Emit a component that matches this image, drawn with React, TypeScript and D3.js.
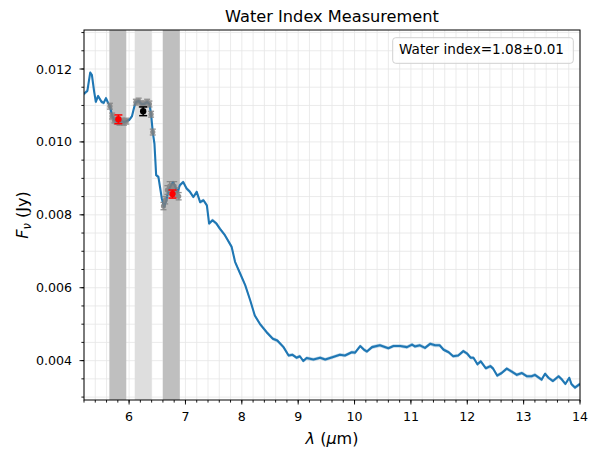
import * as d3 from 'd3'

// spectrum
const wavelength = [
  5.2, 5.22, 5.26, 5.31, 5.34, 5.38, 5.41, 5.45, 5.51, 5.55, 5.59, 5.63, 5.66, 5.7, 5.74, 5.78, 5.83, 5.87,
  5.91, 5.95, 6.0, 6.05, 6.09, 6.12, 6.17, 6.22, 6.27, 6.32, 6.36, 6.39, 6.42, 6.45, 6.48, 6.52, 6.55, 6.58,
  6.62, 6.66, 6.7, 6.74, 6.78, 6.82, 6.86, 6.9, 6.96, 7.02, 7.08, 7.14, 7.2, 7.26, 7.32, 7.38, 7.42, 7.48,
  7.55, 7.61, 7.7, 7.82, 7.88, 7.97, 8.06, 8.15, 8.23, 8.32, 8.44, 8.55, 8.63, 8.74, 8.83, 8.9, 8.97, 9.03,
  9.09, 9.15, 9.27, 9.39, 9.48, 9.62, 9.74, 9.83, 9.95, 10.01, 10.1, 10.16, 10.22, 10.31, 10.45, 10.6, 10.69,
  10.81, 10.93, 11.02, 11.07, 11.16, 11.25, 11.34, 11.43, 11.51, 11.58, 11.67, 11.75, 11.84, 11.93, 12.0,
  12.06, 12.11, 12.18, 12.24, 12.33, 12.41, 12.46, 12.53, 12.61, 12.7, 12.79, 12.88, 12.97, 13.06, 13.14,
  13.2, 13.32, 13.38, 13.44, 13.52, 13.62, 13.68, 13.74, 13.81, 13.85, 13.91, 14.0,
]
const flux = [
  0.01131, 0.01135, 0.0114, 0.0119, 0.01184, 0.01138, 0.0111, 0.01126, 0.0111, 0.01107, 0.0112, 0.01106,
  0.01098, 0.01071, 0.0106, 0.01057, 0.01054, 0.01057, 0.01054, 0.01057, 0.0106, 0.0107, 0.01095, 0.01109,
  0.01112, 0.01104, 0.01104, 0.01109, 0.01104, 0.01076, 0.01027, 0.00995, 0.00909, 0.00904, 0.00875, 0.00845,
  0.00822, 0.0084, 0.00868, 0.00879, 0.0089, 0.00876, 0.00862, 0.00881, 0.0089, 0.00872, 0.00863, 0.00849,
  0.00863, 0.00835, 0.0084, 0.00826, 0.00776, 0.00785, 0.00776, 0.00762, 0.00744, 0.00712, 0.00671, 0.00639,
  0.00607, 0.00565, 0.00524, 0.00501, 0.00478, 0.0046, 0.00455, 0.00437, 0.00414, 0.00416, 0.00408, 0.00412,
  0.00399, 0.00407, 0.00403, 0.00408, 0.00403, 0.0041, 0.00416, 0.00414, 0.00423, 0.00422, 0.0044, 0.00431,
  0.00425, 0.00437, 0.00442, 0.00434, 0.0044, 0.0044, 0.00437, 0.00444, 0.00439, 0.00442, 0.00435, 0.00446,
  0.00442, 0.00442, 0.0043, 0.00423, 0.00412, 0.00414, 0.00426, 0.00419, 0.00408, 0.00408, 0.0039, 0.00398,
  0.00379, 0.00385, 0.00378, 0.00359, 0.00366, 0.00378, 0.0037, 0.00361, 0.00366, 0.00357, 0.00357, 0.00361,
  0.00348, 0.00364, 0.00353, 0.00344, 0.00357, 0.00348, 0.00336, 0.00353, 0.00335, 0.00326, 0.00336,
]
const fluxErr = 0.00005

// integration windows: [start, end] in micron
const continuumBands = [
  [5.65, 5.95],
  [6.6, 6.9],
]
const waterBand = [6.1, 6.4]

// spectral points inside the windows
const windowLam = [
  5.66, 5.7, 5.74, 5.78, 5.83, 5.87, 5.91, 5.95, 6.12, 6.17, 6.22, 6.27, 6.32, 6.36, 6.39, 6.42, 6.61, 6.64,
  6.68, 6.72, 6.76, 6.8, 6.84, 6.88,
]
const windowFlux = [
  0.01098, 0.01071, 0.0106, 0.01057, 0.01054, 0.01057, 0.01054, 0.01057, 0.01109, 0.01112, 0.01104, 0.01104,
  0.01109, 0.01104, 0.01076, 0.01027, 0.00824, 0.0084, 0.00868, 0.00879, 0.00873, 0.00879, 0.00862, 0.00851,
]
const windowErr = [
  0.00008, 0.00008, 0.00008, 0.00008, 0.00008, 0.00008, 0.00008, 0.00008, 0.00008, 0.00008, 0.00008, 0.00008,
  0.00008, 0.00008, 0.00008, 0.00008, 0.0001, 0.0001, 0.00012, 0.00012, 0.00012, 0.00012, 0.00012, 0.0001,
]

// window means: continuum (red), water (black)
const meanLam = [5.81, 6.25, 6.77]
const meanFlux = [0.01062, 0.01084, 0.00857]
const meanErr = [0.00012, 0.00012, 0.00011]
const meanKind = ['continuum', 'water', 'continuum']

const waterIndex = '1.08±0.01'

const xMajor = [6, 7, 8, 9, 10, 11, 12, 13, 14]
const yMajor = [0.004, 0.006, 0.008, 0.01, 0.012]

const W = 599
const H = 458
const font = 'DejaVu Sans, sans-serif'

export default function App() {
  const x = d3.scaleLinear().domain([5.2, 14]).range([84, 580])
  const y = d3.scaleLinear().domain([0.00292, 0.01307]).range([400, 30])
  const [x0, x1] = x.range()
  const [y0, y1] = y.range()

  const xMinor = d3.range(5.2, 14.0001, 0.2)
  const yMinor = d3.range(0.003, 0.01301, 0.0005)

  const line = d3
    .line<number>()
    .x((_, i) => x(wavelength[i]))
    .y(d => y(d))
  const area = d3
    .area<number>()
    .x((_, i) => x(wavelength[i]))
    .y0(d => y(d - fluxErr))
    .y1(d => y(d + fluxErr))

  const errorBar = (lx: number, f: number, e: number, cap: number, color: string, width: number, key: string) => (
    <g key={key} stroke={color} strokeWidth={width}>
      <line x1={x(lx)} x2={x(lx)} y1={y(f - e)} y2={y(f + e)} />
      <line x1={x(lx) - cap} x2={x(lx) + cap} y1={y(f - e)} y2={y(f - e)} />
      <line x1={x(lx) - cap} x2={x(lx) + cap} y1={y(f + e)} y2={y(f + e)} />
    </g>
  )

  return (
    <svg width={W} height={H} style={{position: 'absolute', left: 0, top: 0, background: '#fff'}} fontFamily={font}>
      <defs>
        <clipPath id="plot">
          <rect x={x0} y={y1} width={x1 - x0} height={y0 - y1} />
        </clipPath>
      </defs>
      {/* grid */}
      <g stroke="#e6e6e6" strokeWidth={0.8}>
        {xMinor.map(v => (
          <line key={'gx' + v} x1={x(v)} x2={x(v)} y1={y1} y2={y0} />
        ))}
        {yMinor.map(v => (
          <line key={'gy' + v} x1={x0} x2={x1} y1={y(v)} y2={y(v)} />
        ))}
      </g>
      {/* windows */}
      {continuumBands.map(b => (
        <rect key={'cb' + b[0]} x={x(b[0])} width={x(b[1]) - x(b[0])} y={y1} height={y0 - y1} fill="#bfbfbf" />
      ))}
      <rect x={x(waterBand[0])} width={x(waterBand[1]) - x(waterBand[0])} y={y1} height={y0 - y1} fill="#dedede" />

      <g clipPath="url(#plot)">
        <path d={area(flux) || ''} fill="#1f77b4" opacity={0.3} />
        <path d={line(flux) || ''} fill="none" stroke="#1f77b4" strokeWidth={2.1} strokeLinejoin="round" />
      </g>

      {/* spectral points in the windows */}
      <g opacity={0.85}>
        {windowLam.map((l, i) => errorBar(l, windowFlux[i], windowErr[i], 3, '#808080', 1.3, 'we' + i))}
        {windowLam.map((l, i) => (
          <circle key={'wp' + i} cx={x(l)} cy={y(windowFlux[i])} r={2.6} fill="#808080" />
        ))}
      </g>

      {/* window means */}
      {meanLam.map((l, i) => {
        const c = meanKind[i] === 'water' ? '#000' : '#ff0000'
        return (
          <g key={'m' + i}>
            {errorBar(l, meanFlux[i], meanErr[i], 4, c, 1.5, 'me' + i)}
            <circle cx={x(l)} cy={y(meanFlux[i])} r={3.2} fill={c} />
          </g>
        )
      })}

      {/* axes frame */}
      <rect x={x0} y={y1} width={x1 - x0} height={y0 - y1} fill="none" stroke="#000" strokeWidth={1} />

      {/* ticks */}
      <g stroke="#000" strokeWidth={0.9}>
        {xMinor.map(v => (
          <line key={'xm' + v} x1={x(v)} x2={x(v)} y1={y0} y2={y0 + 2.6} />
        ))}
        {xMajor.map(v => (
          <line key={'xM' + v} x1={x(v)} x2={x(v)} y1={y0} y2={y0 + 4.5} />
        ))}
        {yMinor.map(v => (
          <line key={'ym' + v} x1={x0} x2={x0 - 2.6} y1={y(v)} y2={y(v)} />
        ))}
        {yMajor.map(v => (
          <line key={'yM' + v} x1={x0} x2={x0 - 4.5} y1={y(v)} y2={y(v)} />
        ))}
      </g>
      <g fontSize={12.6} fill="#000">
        {xMajor.map(v => (
          <text key={'xl' + v} x={x(v)} y={421} textAnchor="middle">
            {v}
          </text>
        ))}
        {yMajor.map(v => (
          <text key={'yl' + v} x={72} y={y(v) + 4.5} textAnchor="end">
            {d3.format('.3f')(v)}
          </text>
        ))}
      </g>

      {/* labels */}
      <text x={(x0 + x1) / 2} y={22} textAnchor="middle" fontSize={16.2}>
        Water Index Measurement
      </text>
      <text x={(x0 + x1) / 2} y={444} textAnchor="middle" fontSize={16}>
        <tspan fontStyle="italic">λ</tspan> (<tspan fontStyle="italic">µ</tspan>m)
      </text>
      <text transform={`translate(28,${(y0 + y1) / 2}) rotate(-90)`} textAnchor="middle" fontSize={16}>
        <tspan fontStyle="italic">F</tspan>
        <tspan fontStyle="italic" fontSize={11.5} dy={3}>
          ν
        </tspan>
        <tspan dy={-3}> (Jy)</tspan>
      </text>

      {/* legend */}
      <rect x={392.7} y={37.7} width={180.6} height={25.6} rx={3} fill="#fff" fillOpacity={0.8} stroke="#d0d0d0" strokeWidth={1} />
      <text x={399} y={54.3} fontSize={13.6}>
        Water index={waterIndex}
      </text>
    </svg>
  )
}
